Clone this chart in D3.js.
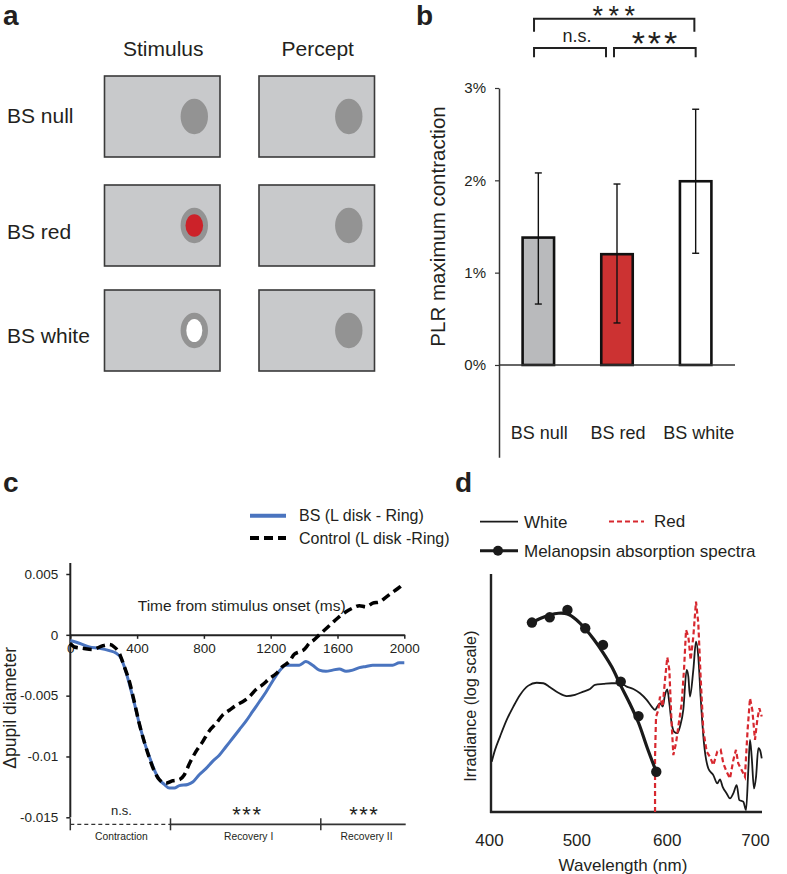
<!DOCTYPE html>
<html><head><meta charset="utf-8">
<script src="https://cdn.jsdelivr.net/npm/d3@7"></script>
<style>
body{margin:0;background:#fff;}
svg{display:block;font-family:"Liberation Sans",Arial,Helvetica,sans-serif;}
</style></head><body>
<svg id="fig" width="787" height="874"></svg>
<script>
// ================= DATA =================
// Panel a
const aRows = ["BS null", "BS red", "BS white"];
const aCols = ["Stimulus", "Percept"];
const aStimInner = [null, "#cc2229", "#ffffff"];   // inner disk colour of the stimulus
// Panel b
const bCategories = ["BS null", "BS red", "BS white"];
const bMeans = [1.38, 1.20, 1.99];
const bErrLow = [0.66, 0.455, 1.21];
const bErrHigh = [2.08, 1.96, 2.77];
const bFills = ["#b9babc", "#cc3232", "#ffffff"];
const bTicks = [0, 1, 2, 3];
const bSigFrom = ["BS null", "BS null", "BS red"];
const bSigTo = ["BS white", "BS red", "BS white"];
const bSigLabel = ["***", "n.s.", "***"];
// Panel c
const cLegend = ["BS (L disk - Ring)", "Control (L disk -Ring)"];
const cBSTime = [0,54,114,174,234,273,303,323,353,383,413,443,473,503,533,563,593,623,653,703,733,772,812,852,892,932,972,1012,1052,1092,1132,1172,1212,1251,1291,1331,1371,1411,1451,1491,1531,1571,1611,1651,1691,1731,1771,1811,1851,1891,1930,1970,2000];
const cBSValue = [-0.00047,-0.00069,-0.001,-0.0011,-0.0013,-0.0015,-0.0019,-0.0026,-0.004,-0.0056,-0.0073,-0.0088,-0.0100,-0.0111,-0.0119,-0.0123,-0.0126,-0.0126,-0.0124,-0.0123,-0.0121,-0.0115,-0.0110,-0.0104,-0.0099,-0.0092,-0.0085,-0.0078,-0.0071,-0.0063,-0.0055,-0.0047,-0.0038,-0.0030,-0.0025,-0.0025,-0.0025,-0.0022,-0.0025,-0.0029,-0.0030,-0.0029,-0.0028,-0.0030,-0.0029,-0.0027,-0.0026,-0.0025,-0.0025,-0.0025,-0.0025,-0.0023,-0.0023];
const cCtrlTime = [0,24,74,134,194,234,263,293,323,353,383,413,443,473,503,533,573,613,653,683,713,752,792,832,872,912,952,992,1032,1072,1112,1152,1192,1232,1271,1311,1341,1371,1401,1431,1461,1491,1531,1571,1611,1651,1691,1731,1771,1811,1851,1891,1930,1970,1995];
const cCtrlValue = [-0.0007,-0.001,-0.0011,-0.0012,-0.0009,-0.0008,-0.001,-0.0015,-0.0026,-0.0038,-0.0055,-0.0073,-0.0088,-0.0101,-0.0112,-0.0119,-0.0122,-0.0120,-0.0119,-0.0115,-0.0106,-0.0096,-0.0088,-0.0079,-0.0073,-0.0066,-0.0062,-0.0058,-0.0055,-0.0051,-0.0045,-0.0041,-0.0036,-0.0032,-0.0026,-0.0022,-0.0016,-0.0014,-0.0012,-0.0007,-0.0004,0.0000,0.0005,0.0010,0.0015,0.0019,0.0022,0.0024,0.0023,0.0026,0.0027,0.0031,0.0035,0.0039,0.0042];
const cXTicks = [0, 400, 800, 1200, 1600, 2000];
const cYTicks = [0.005, 0, -0.005, -0.01, -0.015];
const cYTickLabels = ["0.005", "0", "-0.005", "-0.01", "-0.015"];
const cPhaseNames = ["Contraction", "Recovery I", "Recovery II"];
const cPhaseStart = [0, 600, 1500];
const cPhaseEnd = [600, 1500, 2000];
const cPhaseSig = ["n.s.", "***", "***"];
// Panel d
const dLegend = ["White", "Red", "Melanopsin absorption spectra"];
const dWhiteNm = [404.7,408.4,414.1,421.6,429.1,436.6,446.0,455.3,462.9,470.4,479.7,489.1,498.5,507.9,515.4,521.0,530.4,539.8,549.2,556.7,564.2,571.7,579.2,584.8,588.6,591.2,594.2,597.2,599.8,602.4,604.7,607.3,609.9,613.7,616.7,620.4,624.2,626.1,627.9,631.7,634.7,637.3,639.9,643.7,648.6,654.2,658.7,661.7,664.7,669.2,673.0,676.7,680.5,683.5,688.0,691.0,693.6,695.5,697.4,700.0,702.3,704.9,706.8,708.7];
const dWhiteVal = [0.211,0.260,0.317,0.387,0.443,0.492,0.531,0.543,0.541,0.524,0.501,0.487,0.492,0.506,0.517,0.534,0.538,0.541,0.541,0.527,0.517,0.499,0.471,0.443,0.429,0.443,0.457,0.443,0.492,0.515,0.457,0.373,0.338,0.331,0.359,0.429,0.597,0.569,0.485,0.597,0.716,0.653,0.485,0.289,0.183,0.155,0.120,0.137,0.106,0.078,0.057,0.078,0.113,0.050,0.043,0.008,0.176,0.303,0.232,0.099,0.148,0.268,0.260,0.225];
const dRedNm = [588.6,588.6,589.7,592.3,594.2,597.2,599.8,602.4,604.7,606.9,609.2,612.2,614.8,618.6,621.2,623.5,626.1,628.7,631.7,634.7,637.3,639.9,642.9,646.7,650.4,654.2,658.7,662.5,665.5,669.2,673.0,676.7,679.7,682.3,686.1,689.8,692.8,695.5,698.1,701.1,703.7,706.0,708.7];
const dRedVal = [0.000,0.232,0.400,0.429,0.485,0.443,0.555,0.650,0.597,0.400,0.239,0.289,0.359,0.457,0.597,0.765,0.737,0.639,0.737,0.884,0.793,0.569,0.345,0.254,0.232,0.197,0.254,0.261,0.204,0.169,0.141,0.218,0.261,0.204,0.176,0.148,0.345,0.478,0.429,0.303,0.387,0.436,0.401];
const dMelNm = [450, 470, 490, 510, 530, 550, 570, 590];
const dMelDots = [0.796, 0.818, 0.849, 0.772, 0.702, 0.548, 0.403, 0.169];
const dMelFitNm = [450,460,470,480,490,500,510,520,530,540,550,560,570,580,590];
const dMelFit = [0.796,0.814,0.828,0.835,0.832,0.808,0.770,0.724,0.670,0.609,0.531,0.457,0.375,0.268,0.169];
const dXTicks = [400, 500, 600, 700];

// ================= DRAWING =================
const svg = d3.select("#fig");
svg.append("rect").attr("width", 787).attr("height", 874).attr("fill", "#fff");
const DARK = "#231f20";

function panelLetter(t, x, y) {
  svg.append("text").attr("x", x).attr("y", y).attr("font-size", 28).attr("font-weight", "bold")
    .attr("fill", DARK).text(t);
}
function stars(g, txt, cx, baseline, size, spacing) {
  g.append("text").attr("x", cx + spacing / 2).attr("y", baseline).attr("text-anchor", "middle")
    .attr("font-size", size).attr("letter-spacing", spacing).attr("fill", DARK).text(txt);
}

// ---------- Panel a ----------
panelLetter("a", 3, 25);
{
  const g = svg.append("g");
  const colX = d3.scaleOrdinal().domain(aCols).range([104.5, 259]);
  const boxW = 115.5, boxH = 81;
  const rowTop = d3.scaleOrdinal().domain(aRows).range([76, 185, 290]);
  const labelDy = [6.5, 13.5, 12.4];
  aCols.forEach(c => {
    g.append("text").attr("x", colX(c) + boxW / 2 + 1).attr("y", 56).attr("text-anchor", "middle")
      .attr("font-size", 21).attr("fill", DARK).text(c);
  });
  aRows.forEach((r, i) => {
    const cy = rowTop(r) + boxH / 2;
    g.append("text").attr("x", 7).attr("y", cy + labelDy[i]).attr("font-size", 21).attr("fill", DARK).text(r);
    aCols.forEach((c, j) => {
      const x0 = colX(c);
      g.append("rect").attr("x", x0).attr("y", rowTop(r)).attr("width", boxW).attr("height", boxH)
        .attr("fill", "#c8c9cb").attr("stroke", "#3a3a3a").attr("stroke-width", 1.6);
      const ex = x0 + 89.8, ey = cy;
      g.append("ellipse").attr("cx", ex).attr("cy", ey).attr("rx", 13.7).attr("ry", 17.7).attr("fill", "#939393");
      if (j === 0 && aStimInner[i]) {
        g.append("ellipse").attr("cx", ex).attr("cy", ey).attr("rx", i === 1 ? 8.8 : 8).attr("ry", i === 1 ? 11.3 : 11.5)
          .attr("fill", aStimInner[i]);
      }
    });
  });
}

// ---------- Panel b ----------
panelLetter("b", 416, 25);
{
  const g = svg.append("g");
  const x = d3.scaleBand().domain(bCategories).range([499, 735]).paddingInner(0.6).paddingOuter(0.3);
  const y = d3.scaleLinear().domain([-1, 3]).range([457.3, 88]);
  const ax = g.append("g").attr("transform", "translate(499,0)")
    .call(d3.axisLeft(y).tickValues(bTicks).tickFormat(d => d + "%").tickSize(4).tickSizeOuter(0).tickPadding(9));
  ax.attr("font-family", null);
  ax.select(".domain").attr("stroke", "#333").attr("stroke-width", 1.5);
  ax.selectAll(".tick line").attr("stroke", "#333").attr("stroke-width", 1.2);
  ax.selectAll(".tick text").attr("font-size", 15).attr("fill", DARK);
  g.selectAll(".bar").data(bCategories).enter().append("rect")
    .attr("x", d => x(d)).attr("width", x.bandwidth())
    .attr("y", (d, i) => y(bMeans[i])).attr("height", (d, i) => y(0) - y(bMeans[i]))
    .attr("fill", (d, i) => bFills[i]).attr("stroke", "#111").attr("stroke-width", 2.6);
  g.append("line").attr("x1", 499).attr("x2", 735).attr("y1", y(0)).attr("y2", y(0))
    .attr("stroke", "#333").attr("stroke-width", 1.5);
  bCategories.forEach((c, i) => {
    const cx = x(c) + x.bandwidth() / 2;
    g.append("line").attr("x1", cx).attr("x2", cx).attr("y1", y(bErrLow[i])).attr("y2", y(bErrHigh[i]))
      .attr("stroke", "#111").attr("stroke-width", 1.4);
    [bErrLow[i], bErrHigh[i]].forEach(v => {
      g.append("line").attr("x1", cx - 3.5).attr("x2", cx + 3.5).attr("y1", y(v)).attr("y2", y(v))
        .attr("stroke", "#111").attr("stroke-width", 1.4);
    });
    g.append("text").attr("x", cx + (i === 2 ? 3 : 1)).attr("y", 439).attr("text-anchor", "middle")
      .attr("font-size", 18).attr("fill", DARK).text(c);
  });
  g.append("text").attr("transform", `translate(445,${y(1.5)}) rotate(-90)`).attr("text-anchor", "middle")
    .attr("font-size", 20.5).attr("fill", DARK).text("PLR maximum contraction");
  const cen = c => x(c) + x.bandwidth() / 2;
  const bTop = [18.7, 47.9, 47.9], bBot = [31.7, 57.3, 57.3];
  const offA = [-4.3, -4.3, -3], offB = [-1.3, -11, 0];
  const starBase = [24.6, 0, 54.5];
  const starSize = [27, 0, 34];
  const starSpace = [5.5, 0, 3];
  const starCx = [613.8, 0, 654.5];
  bSigLabel.forEach((lab, i) => {
    const x1 = cen(bSigFrom[i]) + offA[i], x2 = cen(bSigTo[i]) + offB[i];
    g.append("path").attr("d", `M${x1},${bBot[i]}V${bTop[i]}H${x2}V${bBot[i]}`)
      .attr("fill", "none").attr("stroke", "#222").attr("stroke-width", 2);
    if (lab === "n.s.") {
      g.append("text").attr("x", (x1 + x2) / 2 + 7).attr("y", 42).attr("text-anchor", "middle")
        .attr("font-size", 18).attr("fill", DARK).text(lab);
    } else {
      stars(g, lab, starCx[i], starBase[i], starSize[i], starSpace[i]);
    }
  });
}

// ---------- Panel c ----------
panelLetter("c", 3, 492);
{
  const g = svg.append("g");
  const x = d3.scaleLinear().domain([0, 2000]).range([70.3, 404.3]);
  const y = d3.scaleLinear().domain([-0.015, 0.005]).range([817.3, 574]);
  const legY = [515.7, 538];
  g.append("line").attr("x1", 250).attr("x2", 286).attr("y1", legY[0]).attr("y2", legY[0])
    .attr("stroke", "#4a74bf").attr("stroke-width", 4);
  g.append("line").attr("x1", 250).attr("x2", 286).attr("y1", legY[1]).attr("y2", legY[1])
    .attr("stroke", "#000").attr("stroke-width", 4).attr("stroke-dasharray", "9,5");
  cLegend.forEach((t, i) => g.append("text").attr("x", 299).attr("y", legY[i] + 5.7)
    .attr("font-size", 16).attr("fill", DARK).text(t));
  const ay = g.append("g").attr("transform", `translate(${x(0)},0)`)
    .call(d3.axisLeft(y).tickValues(cYTicks).tickFormat((d, i) => cYTickLabels[i]).tickSize(4).tickSizeOuter(0).tickPadding(8));
  ay.attr("font-family", null);
  ay.select(".domain").remove();
  ay.selectAll(".tick line").attr("stroke", "#222").attr("stroke-width", 1.5);
  ay.selectAll(".tick text").attr("font-size", 13.5).attr("fill", DARK);
  g.append("line").attr("x1", x(0)).attr("x2", x(0)).attr("y1", y(0.005) - 11).attr("y2", y(-0.015))
    .attr("stroke", "#222").attr("stroke-width", 2);
  const axx = g.append("g").attr("transform", `translate(0,${y(0)})`)
    .call(d3.axisBottom(x).tickValues(cXTicks).tickFormat(d => String(d)).tickSize(4).tickSizeOuter(0).tickPadding(5));
  axx.attr("font-family", null);
  axx.select(".domain").attr("stroke", "#222").attr("stroke-width", 2);
  axx.selectAll(".tick line").attr("stroke", "#222").attr("stroke-width", 1.5);
  axx.selectAll(".tick text").attr("font-size", 13.5).attr("fill", DARK);
  g.append("text").attr("x", 241.7).attr("y", 611).attr("text-anchor", "middle")
    .attr("font-size", 15.5).attr("fill", DARK).text("Time from stimulus onset (ms)");
  g.append("text").attr("transform", `translate(15.5,${y(-0.006)}) rotate(-90)`).attr("text-anchor", "middle")
    .attr("font-size", 17.5).attr("fill", DARK).text("\u0394pupil diameter");
  const line = d3.line().x(d => x(d[0])).y(d => y(d[1])).curve(d3.curveMonotoneX);
  g.append("path").attr("d", line(cBSTime.map((t, i) => [t, cBSValue[i]])))
    .attr("fill", "none").attr("stroke", "#4a74bf").attr("stroke-width", 3);
  g.append("path").attr("d", line(cCtrlTime.map((t, i) => [t, cCtrlValue[i]])))
    .attr("fill", "none").attr("stroke", "#000").attr("stroke-width", 3.5).attr("stroke-dasharray", "9,5");
  const phY = 824.3;
  cPhaseNames.forEach((n, i) => {
    g.append("line").attr("x1", x(cPhaseStart[i])).attr("x2", x(cPhaseEnd[i]) + (i === 2 ? 1.4 : 0))
      .attr("y1", phY).attr("y2", phY).attr("stroke", "#333")
      .attr("stroke-width", i === 0 ? 1.2 : 1.8).attr("stroke-dasharray", i === 0 ? "4,3" : null);
    g.append("line").attr("x1", x(cPhaseStart[i])).attr("x2", x(cPhaseStart[i]))
      .attr("y1", phY - 6).attr("y2", phY + 6).attr("stroke", "#333").attr("stroke-width", 1.5);
    const mid = x((cPhaseStart[i] + cPhaseEnd[i]) / 2);
    g.append("text").attr("x", mid + (i === 1 ? 3 : i === 2 ? 4 : 1)).attr("y", 840).attr("text-anchor", "middle")
      .attr("font-size", 10.3).attr("fill", DARK).text(n);
    if (cPhaseSig[i] === "n.s.") {
      g.append("text").attr("x", mid + 1).attr("y", 815).attr("text-anchor", "middle")
        .attr("font-size", 13).attr("fill", DARK).text(cPhaseSig[i]);
    } else {
      stars(g, cPhaseSig[i], mid + 1, 821.5, 22, 1.5);
    }
  });
}

// ---------- Panel d ----------
panelLetter("d", 455, 492);
{
  const g = svg.append("g");
  const x = d3.scaleLinear().domain([400, 700]).range([487.5, 754]);
  const y = d3.scaleLinear().domain([0, 1]).range([812, 574]);
  const x0 = 491, x1 = 762;
  g.append("line").attr("x1", 480).attr("x2", 518).attr("y1", 521.7).attr("y2", 521.7)
    .attr("stroke", "#1a1a1a").attr("stroke-width", 1.8);
  g.append("text").attr("x", 524).attr("y", 528).attr("font-size", 17).attr("fill", DARK).text(dLegend[0]);
  g.append("line").attr("x1", 609).attr("x2", 644).attr("y1", 521.5).attr("y2", 521.5)
    .attr("stroke", "#d7282f").attr("stroke-width", 2.2).attr("stroke-dasharray", "5,3");
  g.append("text").attr("x", 654).attr("y", 526.5).attr("font-size", 17).attr("fill", DARK).text(dLegend[1]);
  g.append("line").attr("x1", 480).attr("x2", 518).attr("y1", 550.7).attr("y2", 550.7)
    .attr("stroke", "#1a1a1a").attr("stroke-width", 3);
  g.append("circle").attr("cx", 498).attr("cy", 550.7).attr("r", 5).attr("fill", "#1a1a1a");
  g.append("text").attr("x", 524).attr("y", 556.5).attr("font-size", 17).attr("fill", DARK).text(dLegend[2]);
  g.append("line").attr("x1", x0).attr("x2", x0).attr("y1", 574).attr("y2", y(0) + 1)
    .attr("stroke", "#222").attr("stroke-width", 2.4);
  g.append("line").attr("x1", x0 - 1).attr("x2", x1).attr("y1", y(0)).attr("y2", y(0))
    .attr("stroke", "#222").attr("stroke-width", 2.4);
  const axd = g.append("g").attr("transform", `translate(0,${y(0)})`)
    .call(d3.axisBottom(x).tickValues(dXTicks).tickSize(0).tickPadding(22));
  axd.attr("font-family", null);
  axd.select(".domain").remove();
  axd.selectAll(".tick text").attr("font-size", 17).attr("fill", DARK);
  axd.selectAll(".tick text").attr("dx", (d, i) => [1.5, 0, 1.5, 1][i]);
  g.append("text").attr("x", 623).attr("y", 871).attr("text-anchor", "middle")
    .attr("font-size", 17).attr("fill", DARK).text("Wavelength (nm)");
  g.append("text").attr("transform", `translate(476,${y(0.445)}) rotate(-90)`).attr("text-anchor", "middle")
    .attr("font-size", 16.2).attr("fill", DARK).text("Irradiance (log scale)");
  const line = d3.line().x(d => x(d[0])).y(d => y(d[1])).curve(d3.curveMonotoneX);
  g.append("path").attr("d", line(dWhiteNm.map((n, i) => [n, dWhiteVal[i]])))
    .attr("fill", "none").attr("stroke", "#1a1a1a").attr("stroke-width", 1.8);
  const lineR = d3.line().x(d => x(d[0])).y(d => y(d[1]));
  g.append("path").attr("d", lineR(dRedNm.map((n, i) => [n, dRedVal[i]])))
    .attr("fill", "none").attr("stroke", "#d7282f").attr("stroke-width", 2.2).attr("stroke-dasharray", "5,3");
  const lineM = d3.line().x(d => x(d[0])).y(d => y(d[1])).curve(d3.curveCatmullRom);
  g.append("path").attr("d", lineM(dMelFitNm.map((n, i) => [n, dMelFit[i]])))
    .attr("fill", "none").attr("stroke", "#1a1a1a").attr("stroke-width", 3.2);
  g.selectAll(".mel").data(dMelNm).enter().append("circle")
    .attr("cx", d => x(d)).attr("cy", (d, i) => y(dMelDots[i])).attr("r", 5.2).attr("fill", "#1a1a1a");
}
</script>
</body></html>
